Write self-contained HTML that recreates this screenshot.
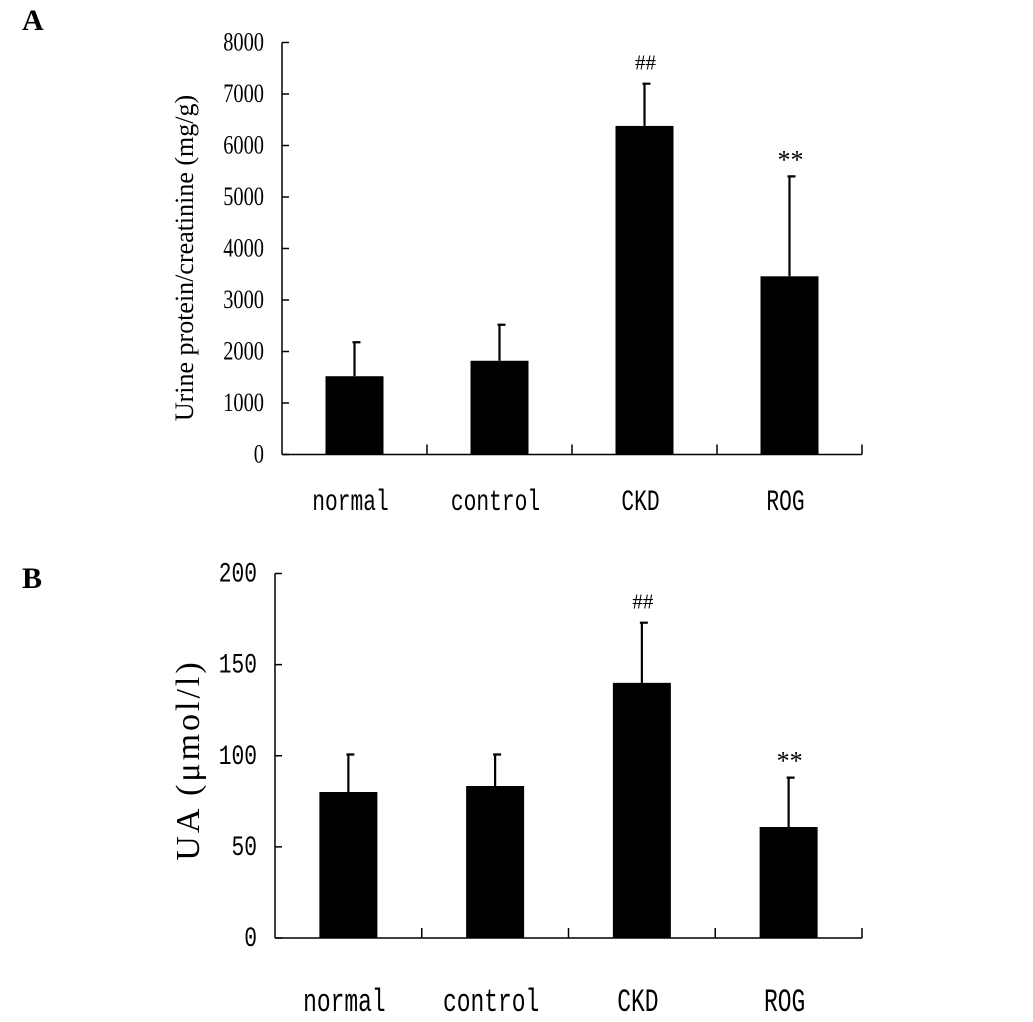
<!DOCTYPE html>
<html><head><meta charset="utf-8"><style>
html,body{margin:0;padding:0;background:#fff;}
svg{display:block;}
</style></head><body>
<svg id="chart" width="1033" height="1022" viewBox="0 0 1033 1022" xmlns="http://www.w3.org/2000/svg">
<text x="22" y="30" font-family="Liberation Serif,serif" font-weight="bold" font-size="30">A</text>
<text x="22" y="588" font-family="Liberation Serif,serif" font-weight="bold" font-size="30">B</text>
<text transform="translate(193,258) rotate(-90)" text-anchor="middle" font-family="Liberation Serif,serif" font-size="26">Urine protein/creatinine (mg/g)</text>
<text transform="translate(199,760) rotate(-90)" text-anchor="middle" font-family="Liberation Serif,serif" font-size="34" letter-spacing="3">UA (μmol/l)</text>
<g id="pa"></g><g id="pb"></g>
</svg>
<script>
const categories = ["normal","control","CKD","ROG"];
const valuesA = [1520, 1820, 6380, 3460];
const errorsA = [660, 700, 820, 1940];
const marksA = ["", "", "##", "**"];
const ticksA = [0,1000,2000,3000,4000,5000,6000,7000,8000];
const valuesB = [80.1, 83.4, 140, 60.9];
const errorsB = [20.6, 17.3, 33, 27.1];
const marksB = ["", "", "##", "**"];
const ticksB = [0,50,100,150,200];

const NS="http://www.w3.org/2000/svg";
function mk(g,t,a){const e=document.createElementNS(NS,t);for(const k in a)e.setAttribute(k,a[k]);g.appendChild(e);return e;}
function panel(gid,p,vals,errs,marks,ticks,suf){
  const g=document.getElementById(gid);
  const maxV=ticks[ticks.length-1];
  const y=v=>p.y0-(v/maxV)*(p.y0-p.y1);
  const gw=(p.x1-p.x0)/categories.length;
  const xc=i=>p.x0+gw*(i+0.5);
  let l=mk(g,'line',{x1:p.x0,y1:p.y1,x2:p.x0,y2:p.y0,stroke:'#000','stroke-width':1.5});
  
  
  l=mk(g,'line',{x1:p.x0,y1:p.y0,x2:p.x1,y2:p.y0,stroke:'#000','stroke-width':1.5});
  
  
  ticks.forEach(t=>{
    mk(g,'line',{x1:p.x0,y1:y(t),x2:p.x0+7,y2:y(t),stroke:'#000','stroke-width':1.5});
    const tx=mk(g,'text',{transform:`translate(${p.x0-18},${y(t)+8}) scale(0.85,1.1)`,'text-anchor':'end','font-family':p.tfont,'font-size':p.tfs});
    tx.textContent=t;
    
    
  });
  for(let i=1;i<=categories.length;i++){
    const xx=p.x0+gw*i;
    mk(g,'line',{x1:xx,y1:p.y0,x2:xx,y2:p.y0-10,stroke:'#000','stroke-width':1.5});
  }
  categories.forEach((c,i)=>{
    const bw=p.bw;
    const r=mk(g,'rect',{x:xc(i)-bw/2,y:y(vals[i]),width:bw,height:p.y0-y(vals[i]),fill:'#000'});
    
    
    const ye=y(vals[i]+errs[i]);
    const e=mk(g,'path',{d:`M${xc(i)} ${y(vals[i])}V${ye}M${xc(i)-2} ${ye}H${xc(i)+6}`,stroke:'#000','stroke-width':2.2,fill:'none'});
    
    
    if(marks[i]){
      const m=mk(g,'text',{x:xc(i)+1,y:ye+(marks[i]==='**'?-8:-14),'text-anchor':'middle','font-family':'Liberation Serif,serif','font-size':marks[i]==='**'?26:21});
      m.textContent=marks[i];
      
      
    }
    const t=mk(g,'text',{transform:`translate(${xc(i)-4},${p.xly}) scale(0.85,1.2)`,'text-anchor':'middle','font-family':'Liberation Mono,monospace','font-size':p.xfs});
    t.textContent=c;
    
    
  });
}
panel('pa',{x0:282,x1:862,y0:454.5,y1:42.5,bw:58,tfont:'Liberation Serif,serif',tfs:24,xly:510,xfs:25},valuesA,errorsA,marksA,ticksA,'a');
panel('pb',{x0:275,x1:862,y0:938,y1:573.5,bw:58,tfont:'Liberation Mono,monospace',tfs:25,xly:1011,xfs:27},valuesB,errorsB,marksB,ticksB,'b');
</script>
</body></html>
